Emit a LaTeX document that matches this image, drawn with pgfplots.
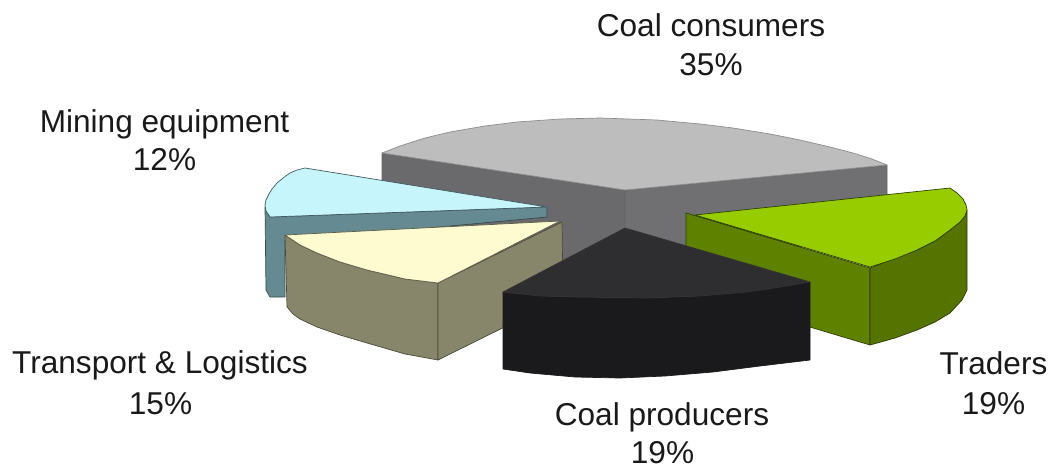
\documentclass[border=0pt]{standalone}
\usepackage{fontspec}
\setmainfont{Liberation Sans}
\usepackage{pgfplots}
\pgfplotsset{compat=1.18}
\definecolor{grtop}{HTML}{BDBDBD}
\definecolor{grleft}{HTML}{6A696B}
\definecolor{grright}{HTML}{707072}
\definecolor{bltop}{HTML}{C6F6FC}
\definecolor{blside}{HTML}{658A92}
\definecolor{yetop}{HTML}{FDFBCF}
\definecolor{yeside}{HTML}{87866A}
\definecolor{grntop}{HTML}{97CC00}
\definecolor{grnleft}{HTML}{5E8200}
\definecolor{grnright}{HTML}{557300}
\definecolor{bktop}{HTML}{2E2E30}
\definecolor{bkside}{HTML}{1A1A1C}
\tikzset{lab/.style={font=\fontsize{31.6}{32}\selectfont, anchor=base, inner sep=0pt, text=black!90}}
\begin{document}
\begin{tikzpicture}
\begin{axis}[
  anchor=south west, at={(0,0)},
  scale only axis, width=1051pt, height=466pt,
  xmin=0, xmax=1051, ymin=0, ymax=466, y dir=reverse,
  axis lines=none, ticks=none, clip=false,
  every axis plot/.append style={line width=0.7pt, line join=round},
]
\path (rel axis cs:0,0) (rel axis cs:1,1);
% coal consumers: walls, then top
\addplot[fill=grleft, draw=black!60] coordinates {(382,153) (625,190) (625,290) (382,225)} -- cycle;
\addplot[fill=grright, draw=black!60] coordinates {(625,190) (887,165) (887,225) (625,290)} -- cycle;
\addplot[fill=grtop, draw=black!45] coordinates {(382,153) (400,146) (425,138) (450,132) (485,126) (517,122) (560,119) (600,118) (657,120) (700,124) (733,128) (770,134) (800,140) (830,147) (853,153) (872,159) (887,165) (625,190)} -- cycle;
% mining equipment
\addplot[fill=blside, draw=black!45!blside] coordinates {(270,217) (547,207) (547,217) (300,240) (285,240) (285,297) (270,297) (266,290) (265,207)} -- cycle;
\addplot[fill=bltop, draw=black!35!blside] coordinates {(547,207) (305,168) (297,170) (290,173) (283,178) (277,183) (272,189) (269,194) (266,200) (265,205) (266,211) (270,217)} -- cycle;
% transport and logistics
\addplot[fill=yeside, draw=black!45!yeside] coordinates {(285,235) (300,245) (317,253) (340,262) (367,270) (405,279) (438,283) (438,360) (405,354) (367,343) (340,335) (317,327) (300,319) (293,314) (287,307)} -- cycle;
\addplot[fill=yeside, draw=black!45!yeside] coordinates {(438,283) (562,222) (563,298) (438,360)} -- cycle;
\addplot[fill=yetop, draw=black!30!yeside] coordinates {(560,221) (285,235) (300,245) (317,253) (340,262) (367,270) (405,279) (438,283)} -- cycle;
% traders
\addplot[fill=grnleft, draw=black!50!grnleft] coordinates {(686,213) (870,268) (870,345) (686,290)} -- cycle;
\addplot[fill=grnright, draw=black!50!grnright] coordinates {(870,268) (917,250) (935,241) (950,230) (960,222) (965,216) (967,210) (967,290) (962,300) (950,313) (935,322) (917,330) (895,338) (870,345)} -- cycle;
\addplot[fill=grntop, draw=black!50!grnleft] coordinates {(695,215) (950,188) (957,193) (963,199) (966,205) (967,210) (965,216) (960,222) (950,230) (935,241) (917,250) (895,259) (870,267)} -- cycle;
% coal producers
\addplot[fill=bkside, draw=bkside] coordinates {(503,292) (540,296) (580,297) (647,298) (700,296) (747,292) (780,287) (810,282) (810,360) (760,366) (713,372) (665,376) (620,378) (575,377) (530,373) (503,369)} -- cycle;
\addplot[fill=bktop, draw=black!80] coordinates {(625,228) (810,282) (780,287) (747,292) (700,296) (647,298) (580,297) (540,296) (503,292)} -- cycle;
% labels
\node[lab] at (axis cs:711,36) {Coal consumers};
\node[lab] at (axis cs:711,75) {35\%};
\node[lab] at (axis cs:164.5,132) {Mining equipment};
\node[lab] at (axis cs:164.5,170) {12\%};
\node[lab] at (axis cs:160,373) {Transport \& Logistics};
\node[lab] at (axis cs:160.5,414) {15\%};
\node[lab] at (axis cs:993.5,374) {Traders};
\node[lab] at (axis cs:993.5,414) {19\%};
\node[lab] at (axis cs:662,425) {Coal producers};
\node[lab] at (axis cs:662.5,463) {19\%};
\end{axis}
\end{tikzpicture}
\end{document}
